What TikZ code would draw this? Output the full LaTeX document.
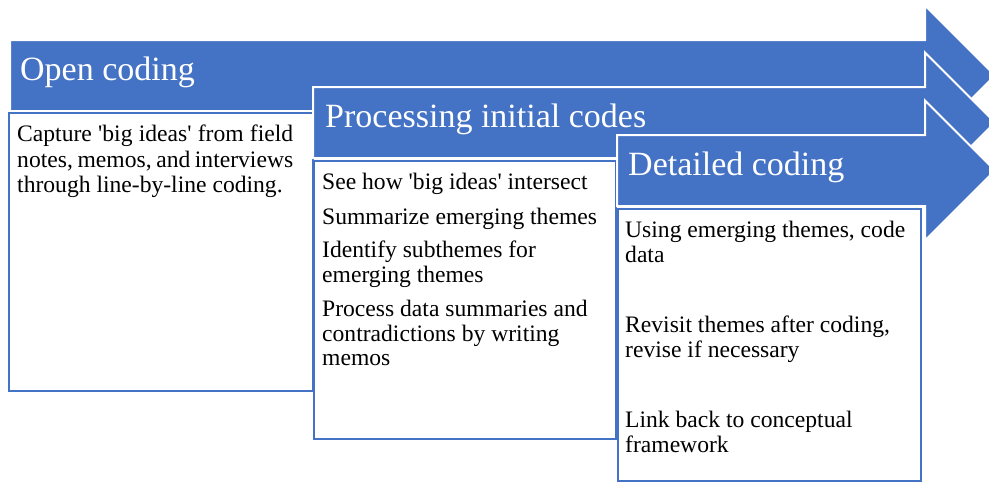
\documentclass[tikz,border=0pt]{standalone}
\usepackage{fontspec}
\setmainfont{Liberation Serif}[Ligatures=TeXOff]
\definecolor{stageblue}{HTML}{4472C4}

\tikzset{
  stagearrow/.style={fill=stageblue, draw=white, line width=2pt, line join=miter},
  stagebox/.style={fill=white, draw=stageblue, line width=2.2pt},
  stagetitle/.style={anchor=base west, inner sep=0pt, text=white,
    font=\fontsize{34}{36}\selectfont},
  stagetext/.style={anchor=north west, inner sep=0pt, align=left,
    font=\fontsize{23.6}{24.5}\selectfont},
}

\begin{document}
\begin{tikzpicture}[x=1pt, y=-1pt]

    \useasboundingbox (0,0) rectangle (989,483);

    % Stage 1: open coding
    \draw[stagearrow] (10,40) -- (925,40) -- (925,5.5) -- (995,75.5)
        -- (925,145.5) -- (925,111) -- (10,111) -- cycle;
    \node[stagetitle] (open) at (20,80) {Open coding};
    \draw[stagebox] (9,113) rectangle (313,391);
    \node[stagetext, align=justify, text width=276pt,
          font=\fontsize{23.6}{25.2}\selectfont] (opentext) at (17,125)
        {Capture 'big ideas' from field\linebreak
         notes, memos, and interviews\linebreak
         through line-by-line coding.};

    % Stage 2: processing initial codes
    \draw[stagearrow] (313,87) -- (925,87) -- (925,52.5) -- (995,122.5)
        -- (925,192.5) -- (925,158) -- (313,158) -- cycle;
    \node[stagetitle] (process) at (325,127) {Processing initial codes};
    \draw[stagebox] (314,161) rectangle (616,439);
    \node[stagetext] (processtext) at (322,173)
        {See how 'big ideas' intersect\\[10pt]
         Summarize emerging themes\\[9pt]
         Identify subthemes for\\
         emerging themes\\[10pt]
         Process data summaries and\\
         contradictions by writing\\
         memos};

    % Stage 3: detailed coding
    \draw[stagearrow] (617,135) -- (925,135) -- (925,100.5) -- (995,170.5)
        -- (925,240.5) -- (925,206) -- (617,206) -- cycle;
    \node[stagetitle] (detail) at (628,175) {Detailed coding};
    \draw[stagebox] (618,209) rectangle (921,481);
    \node[stagetext] (detailtext) at (625,221)
        {Using emerging themes, code\\
         data\\[46pt]
         Revisit themes after coding,\\
         revise if necessary\\[46pt]
         Link back to conceptual\\
         framework};

\end{tikzpicture}
\end{document}
